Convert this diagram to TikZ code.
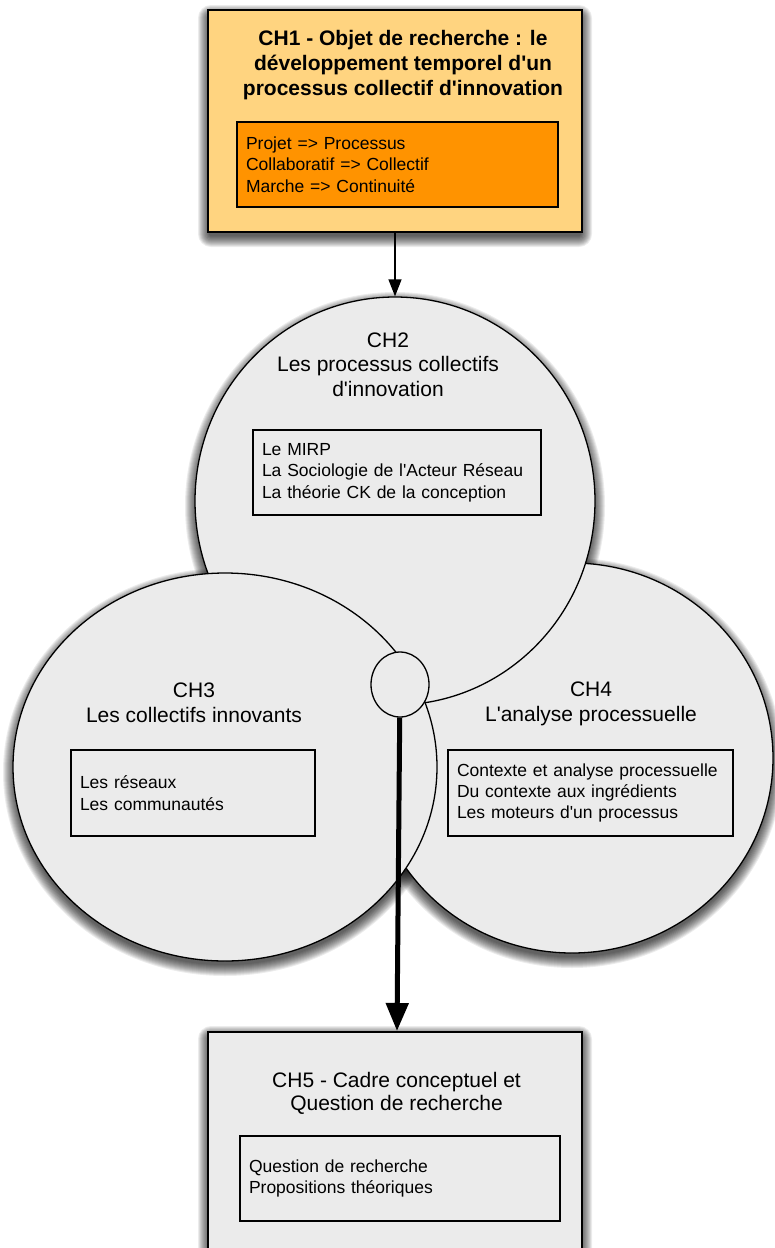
\documentclass[tikz,border=0pt]{standalone}
\usepackage{fontspec}
\setmainfont{Liberation Sans}
\usetikzlibrary{shapes.geometric,arrows.meta}
\definecolor{chouter}{RGB}{255,212,128}
\definecolor{chinner}{RGB}{255,147,0}
\definecolor{grayfill}{RGB}{235,235,235}
\newcommand\myshadowell[4]{%
  \foreach \k in {1,...,12}{\fill[black,opacity=0.075] (#1,#2+5) ellipse [x radius={(#3+\k-2)*1pt}, y radius={(#4+\k-2)*1pt}];}}
\newcommand\myshadowrect[4]{%
  \foreach \k in {1,...,12}{\fill[black,opacity=0.075,rounded corners={(\k+1)*1pt}] (#1-\k+2,#2-\k+7) rectangle (#3+\k-2,#4+\k+3);}}
\newcommand\ap{\textquotesingle}
\begin{document}
\begin{tikzpicture}[x=1pt,y=-1pt,
  ttl/.style={font=\fontsize{21}{24.5}\selectfont, align=center, inner sep=0pt},
  listbox/.style={draw, line width=1.3pt, align=left, inner xsep=9pt, inner ysep=0pt, font=\fontsize{17.5}{21.3}\selectfont},
  bubble/.style={ellipse, draw, line width=1.3pt, fill=grayfill, inner sep=0pt},
  bigbox/.style={rectangle, draw, inner sep=0pt, minimum width=374pt},
  thinarrow/.style={line width=1.3pt, -{Triangle[length=17pt,width=13pt]}},
  thickarrow/.style={line width=5pt, -{Triangle[length=28pt,width=22pt]}}]
\useasboundingbox (0,0) rectangle (774,1248);
\fill[white] (0,0) rectangle (774,1248);
% shadows
\myshadowrect{208}{10}{582}{232}
\myshadowrect{208}{1031}{582}{1300}
\myshadowell{572}{758}{201}{195}
\myshadowell{395}{501}{200}{204}
\myshadowell{225}{767}{212}{194}
% CH1
\node[bigbox, line width=1.8pt, fill=chouter, minimum height=222pt] (ch1) at (395,121) {};
\node[ttl, font={\fontsize{21}{25}\selectfont\bfseries}] (ch1t) at (403,65)
  {CH1 - Objet de recherche : le\\développement temporel d\ap un\\processus collectif d\ap innovation};
\node[listbox, fill=chinner, text width=303pt, minimum height=85pt] (ch1b) at (397.5,164.5)
  {Projet => Processus\\Collaboratif => Collectif\\Marche => Continuité};
% CH5
\node[bigbox, line width=1.5pt, fill=grayfill, minimum height=270pt, anchor=north] (ch5) at (395,1031) {};
\node[ttl, font=\fontsize{21}{23}\selectfont] (ch5t) at (396.5,1093.5)
  {CH5 - Cadre conceptuel et\\Question de recherche};
\node[listbox, fill=grayfill, text width=302pt, minimum height=85pt] (ch5b) at (400,1178.5)
  {Question de recherche\\Propositions théoriques};
% CH4
\node[bubble, minimum width=402pt, minimum height=390pt] (ch4) at (572,758) {};
\node[ttl, font=\fontsize{21}{25}\selectfont] (ch4t) at (591,704) {CH4\\L\ap analyse processuelle};
\node[listbox, fill=grayfill, text width=267pt, minimum height=86pt] (ch4b) at (590.5,793)
  {Contexte et analyse processuelle\\Du contexte aux ingrédients\\Les moteurs d\ap un processus};
% CH2
\node[bubble, minimum width=400pt, minimum height=408pt] (ch2) at (395,501) {};
\node[ttl] (ch2t) at (388,364.5) {CH2\\Les processus collectifs\\d\ap innovation};
\node[listbox, fill=grayfill, text width=270pt, minimum height=85pt] (ch2b) at (397,472.5)
  {Le MIRP\\La Sociologie de l\ap Acteur Réseau\\La théorie CK de la conception};
% CH3
\node[bubble, minimum width=424pt, minimum height=388pt] (ch3) at (225,767) {};
\node[ttl, font=\fontsize{21}{25}\selectfont] (ch3t) at (194,702.5) {CH3\\Les collectifs innovants};
\node[listbox, fill=grayfill, text width=226pt, minimum height=86pt] (ch3b) at (193,793)
  {Les réseaux\\Les communautés};
% small junction circle
\node[bubble, minimum width=58pt, minimum height=65pt] (junc) at (400,684.5) {};
% connectors
\draw[thinarrow] (ch1) -- (ch2);
\draw[thickarrow] (junc) -- ([xshift=2pt]ch5.north);
\end{tikzpicture}
\end{document}
